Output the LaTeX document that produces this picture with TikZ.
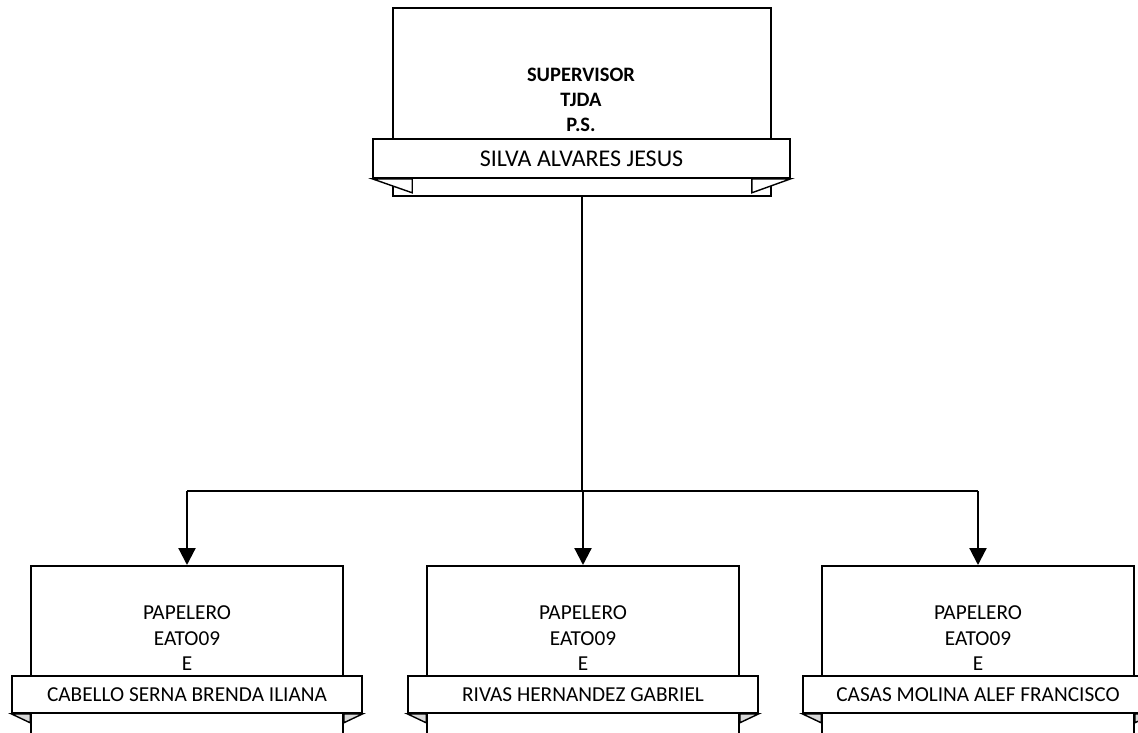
\documentclass[tikz,border=0pt]{standalone}
\usepackage{fontspec}
\setmainfont{Carlito}
\usetikzlibrary{arrows.meta}
\begin{document}
\begin{tikzpicture}[x=1pt,y=-1pt,
  box/.style={draw,line width=1.6pt,fill=white,minimum width=312pt,minimum height=180pt,inner sep=0pt,anchor=north},
  banner/.style={draw,line width=1.6pt,fill=white,minimum width=350pt,minimum height=37pt,inner sep=0pt,font=\fontsize{21.3}{25}\selectfont},
  tail/.style={draw,line width=1.4pt,fill=#1,line join=miter},
  tail/.default=white,
  txt/.style={anchor=base,inner sep=0pt,font=\fontsize{21.3}{25}\selectfont},
  btxt/.style={txt,font=\fontsize{20.5}{24}\selectfont\bfseries},
  conn/.style={line width=2.2pt},
  arr/.style={conn,-{Triangle[length=17pt,width=17pt]}}
]
\useasboundingbox (0,0) rectangle (1138,733);
\clip (0,0) rectangle (1138,733);

% top box
\node[box,minimum width=378pt,minimum height=188pt] (sup) at (582,7) {};
\node[btxt] (sup1) at (581,82) {SUPERVISOR};
\node[btxt] (sup2) at (581,107) {TJDA};
\node[btxt] (sup3) at (581,132) {P.S.};
\node[banner,minimum width=417pt,minimum height=39pt,font=\fontsize{24}{28}\selectfont] (supb) at (581.5,158.5) {SILVA ALVARES JESUS};
\draw[tail] (supb.south west) -- ([xshift=20pt,yshift=-14pt]supb.south west -| sup.west) -- ([xshift=20pt]supb.south west -| sup.west) -- cycle;
\draw[tail] (supb.south east) -- ([xshift=-20pt,yshift=-14pt]supb.south east -| sup.east) -- ([xshift=-20pt]supb.south east -| sup.east) -- cycle;

% bottom boxes
\foreach \n/\x/\name in {a/187/CABELLO SERNA BRENDA ILIANA, b/583/RIVAS HERNANDEZ GABRIEL, c/978/CASAS MOLINA ALEF FRANCISCO}{
  \node[box] (\n) at (\x,565) {};
  \node[txt] (\n1) at (\x,619) {PAPELERO};
  \node[txt] (\n2) at (\x,645) {EATO09};
  \node[txt] (\n3) at (\x,670) {E};
  \node[banner] (\n b) at (\x,694.5) {\name};
  \draw[tail=black!15] (\n b.south west) -- ([yshift=-9pt]\n b.south west -| \n.west) -- (\n b.south west -| \n.west) -- cycle;
  \draw[tail=black!15] (\n b.south east) -- ([yshift=-9pt]\n b.south east -| \n.east) -- (\n b.south east -| \n.east) -- cycle;
}

% connectors
\coordinate (j) at (582,491);
\draw[conn] (sup.south) -- (j);
\draw[conn] (j -| a.north) -- (j -| c.north);
\draw[arr] (j -| a.north) -- (a.north);
\draw[arr] (j -| b.north) -- (b.north);
\draw[arr] (j -| c.north) -- (c.north);
\end{tikzpicture}
\end{document}
